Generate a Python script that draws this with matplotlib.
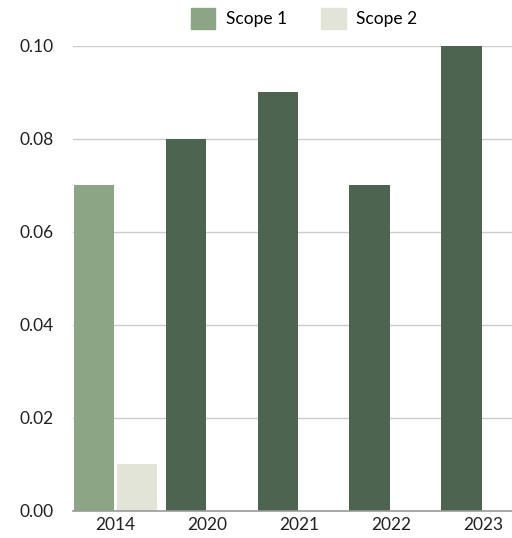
import matplotlib
matplotlib.use("Agg")
import matplotlib.pyplot as plt
import matplotlib.patches as mpatches
import numpy as np

years = ["2014", "2020", "2021", "2022", "2023"]
scope1 = [0.07, 0.08, 0.09, 0.07, 0.10]
scope2 = [0.01, 0.0, 0.0, 0.0, 0.0]

color_s1 = "#8ca584"
color_s2 = "#e2e4d7"
color_dark = "#4d6450"
# first year keeps the legend colour, later years are highlighted darker
s1_colors = [color_s1] + [color_dark] * (len(years) - 1)

plt.rcParams["font.family"] = ["Lato", "DejaVu Sans"]

fig = plt.figure(figsize=(5.12, 5.38), dpi=100)
ax = fig.add_axes([0.1426, 0.0502, 0.8574, 0.8643])

x = np.arange(len(years))
w = 0.435
ax.bar(x - 0.234, scope1, w, color=s1_colors, zorder=3)
ax.bar(x + 0.234, [v if v > 0 else np.nan for v in scope2], w, color=color_s2, zorder=3)

ax.set_xlim(-0.457, 4.315)
ax.set_ylim(0, 0.10)
ax.set_yticks([0, 0.02, 0.04, 0.06, 0.08, 0.10])
ax.set_yticklabels(["0.00", "0.02", "0.04", "0.06", "0.08", "0.10"])
ax.set_xticks(x)
ax.set_xticklabels(years)
ax.tick_params(axis="both", length=0, labelsize=12.5, colors="#222222")
ax.tick_params(axis="y", pad=14)
ax.tick_params(axis="x", pad=4)

ax.grid(axis="y", color="#cccccc", linewidth=1, zorder=0)
for s in ["top", "right", "left"]:
    ax.spines[s].set_visible(False)
ax.spines["bottom"].set_color("#999999")
ax.spines["bottom"].set_linewidth(1.2)
ax.spines["bottom"].set_zorder(4)

handles = [mpatches.Patch(color=color_s1, label="Scope 1"),
           mpatches.Patch(color=color_s2, label="Scope 2")]
fig.legend(handles=handles, loc="center", bbox_to_anchor=(304 / 512, 1 - 18.5 / 538),
           ncol=2, frameon=False, fontsize=12.5, handlelength=1.4, handleheight=1.4,
           handletextpad=0.6, columnspacing=2.0, borderaxespad=0)

fig.savefig("out.png", dpi=100)
